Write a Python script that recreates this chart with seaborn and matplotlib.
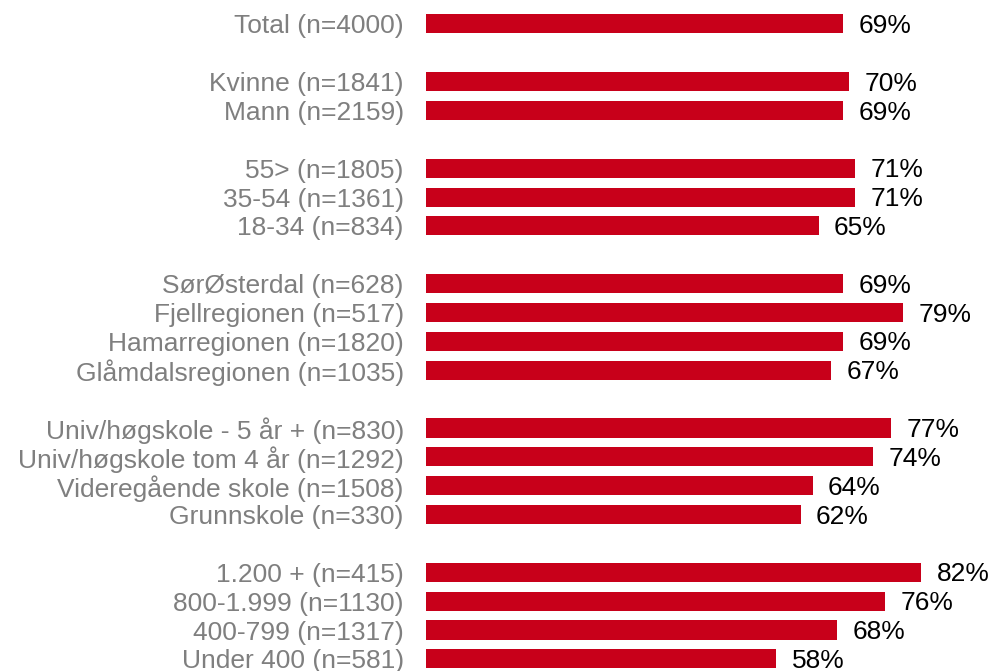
import numpy as np
import pandas as pd
import matplotlib
matplotlib.use('Agg')
import matplotlib.pyplot as plt
import seaborn as sns

# grupper av kategorier (tom rad mellom hver gruppe)
grp_total = ['Total (n=4000)']
grp_kjonn = ['Kvinne (n=1841)', 'Mann (n=2159)']
grp_alder = ['55> (n=1805)', '35-54 (n=1361)', '18-34 (n=834)']
grp_region = ['SørØsterdal (n=628)', 'Fjellregionen (n=517)',
              'Hamarregionen (n=1820)', 'Glåmdalsregionen (n=1035)']
grp_utd = ['Univ/høgskole - 5 år + (n=830)', 'Univ/høgskole tom 4 år (n=1292)',
           'Videregående skole (n=1508)', 'Grunnskole (n=330)']
grp_inntekt = ['1.200 + (n=415)', '800-1.999 (n=1130)', '400-799 (n=1317)',
               'Under 400 (n=581)']

val_total = [69]
val_kjonn = [70, 69]
val_alder = [71, 71, 65]
val_region = [69, 79, 69, 67]
val_utd = [77, 74, 64, 62]
val_inntekt = [82, 76, 68, 58]

grupper = [grp_total, grp_kjonn, grp_alder, grp_region, grp_utd, grp_inntekt]
verdier = [val_total, val_kjonn, val_alder, val_region, val_utd, val_inntekt]

# bygg tabell med radnummer, en tom rad mellom gruppene
rader = []
pos = 0
for labels, vals in zip(grupper, verdier):
    for lab, v in zip(labels, vals):
        rader.append({'label': lab, 'verdi': v, 'pos': pos})
        pos += 1
    pos += 1
df = pd.DataFrame(rader)

sns.set_style('white')
plt.rcParams['font.family'] = ['Liberation Sans', 'DejaVu Sans']

fig = plt.figure(figsize=(9.94, 6.71), dpi=100)
ax = fig.add_axes([426 / 994, 0, 568 / 994, 1])

sns.barplot(data=df, x='verdi', y='pos', orient='h', native_scale=True,
            color='#C8001A', saturation=1, width=0.66, linewidth=0, ax=ax)

ax.set_xlim(0, 94)
ax.set_ylim(22.42, -0.83)
ax.set_yticks(df['pos'])
ax.set_yticklabels(df['label'], color='#7F7F7F', fontsize=19)
ax.tick_params(axis='y', length=0, pad=16)
ax.set_xticks([])
ax.set_xlabel('')
ax.set_ylabel('')
sns.despine(ax=ax, left=True, bottom=True)

for _, r in df.iterrows():
    ax.annotate(f"{r['verdi']}%", (r['verdi'], r['pos']), xytext=(11, -1.5),
                textcoords='offset points', va='center', ha='left',
                fontsize=19, color='black')

fig.savefig('out.png', dpi=100)
